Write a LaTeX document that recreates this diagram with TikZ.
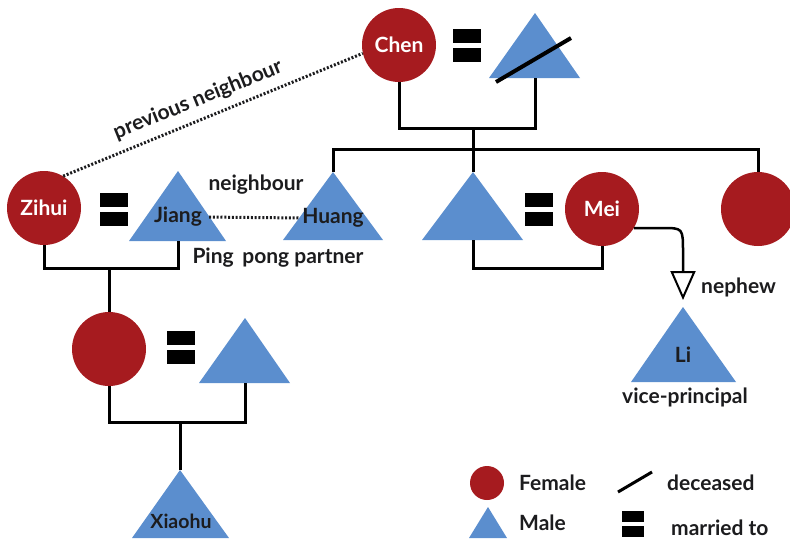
\documentclass[tikz,border=0pt]{standalone}
\usepackage{fontspec}
\setmainfont{Lato}
\usetikzlibrary{arrows.meta,calc}

\definecolor{femred}{RGB}{166,27,31}
\definecolor{maleblue}{RGB}{91,142,206}
\definecolor{inkgrey}{RGB}{28,28,30}

\tikzset{
  female/.style={circle,fill=femred,minimum size=74pt,inner sep=0pt,text=white,
    font=\bfseries\fontsize{21}{24}\selectfont},
  male/.style={fill=maleblue},
  malename/.style={inner sep=1pt,text=inkgrey,font=\bfseries\fontsize{21}{24}\selectfont},
  lbl/.style={inner sep=1pt,text=inkgrey,font=\bfseries\fontsize{21}{24}\selectfont},
  kin/.style={line width=3pt,line cap=butt,line join=miter},
  link/.style={line width=3pt,line cap=butt,dash pattern=on 2pt off 1.8pt,draw=inkgrey},
  dead/.style={line width=4pt,line cap=butt},
  marry/.pic={\fill (-14,-16.5) rectangle (14,-2.5); \fill (-14,2.5) rectangle (14,16.5);}
}

\begin{document}
\begin{tikzpicture}[line cap=round,line join=round,x=1pt,y=-1pt]

\useasboundingbox (0,0) rectangle (790,542);

% Chen and husband
\node[female] (chen) at (399,45) {Chen};
\pic at (467,45.5) {marry};
\fill[male] (535,13) -- (489,78) -- (580,78) -- cycle;
\coordinate (chenhb) at (535,78);
\draw[dead] (496,82) -- (571,38);

% Zihui and Jiang
\node[female] (zihui) at (44,208) {Zihui};
\pic at (114,209.5) {marry};
\fill[male] (178,171) -- (129,241) -- (226,241) -- cycle;
\coordinate (jiangb) at (178,241);
\node[malename] (jiang) at (178,217) {Jiang};

% Chen's children
\fill[male] (333,172) -- (283,240) -- (383,240) -- cycle;
\coordinate (huangt) at (333,172);
\node[malename] (huang) at (333,218) {Huang};

\fill[male] (473,172) -- (422,240) -- (523,240) -- cycle;
\coordinate (sont) at (473,172);
\coordinate (sonb) at (473,240);
\pic at (539,209) {marry};
\node[female] (mei) at (602,209) {Mei};

\node[female] (sister) at (758,209) {};

% next generation
\node[female] (daughter) at (109,349) {};
\pic at (180.5,347) {marry};
\fill[male] (245,318) -- (199,383) -- (290,383) -- cycle;
\coordinate (sonlawb) at (245,383);

\fill[male] (180,470) -- (132,538) -- (229,538) -- cycle;
\coordinate (xiaohut) at (180,470);
\node[malename,font=\bfseries\fontsize{19.5}{22}\selectfont] (xiaohu) at (181,521) {Xiaohu};

\fill[male] (683,307) -- (631,382) -- (736,382) -- cycle;
\coordinate (lit) at (683,307);
\node[malename] (li) at (683,355) {Li};

% family lines
\coordinate (chenm) at (473,128);
\coordinate (sib) at (473,149);
\draw[kin] (chen.south) |- (chenm) -| (chenhb);
\draw[kin] (chenm) -- (sont);
\draw[kin] (huangt) |- (sib) -| (sister.north);
\draw[kin] (sonb) -- ++(0,28) -| (mei.south);

\coordinate (zihuim) at (109,268);
\draw[kin] (zihui.south) |- (zihuim) -| (jiangb);
\draw[kin] (zihuim) -- (daughter.north);

\coordinate (daughterm) at (180,422);
\draw[kin] (daughter.south) |- (daughterm) -| (sonlawb);
\draw[kin] (daughterm) -- (xiaohut);

% other ties
\draw[link] (zihui.59) -- (chen.193);
\draw[link,shorten <=6pt,shorten >=1pt] (jiang.east) -- (huang.west);
\coordinate (nephbend) at (662,228);
\draw[line width=2.5pt,line cap=butt,-{Triangle[open,length=29pt,width=25pt,line width=2pt]}]
  (mei.-31) -- (nephbend) .. controls (683,228) .. (683,252) -- ($(lit)+(0,-7)$);

% labels
\node[lbl,rotate=22] (prevnb) at (198,100) {previous neighbour};
\node[lbl] (nb) at (256,185) {neighbour};
\node[lbl] (pp) at (278,258) {Ping\, pong partner};
\node[lbl,anchor=west] (neph) at (700,287) {nephew};
\node[lbl] (vp) at (685,397) {vice-principal};

% legend
\node[female,minimum size=34pt] (lgf) at (487,483) {};
\node[lbl,anchor=west] (lgft) at (518,483) {Female};
\fill[male] (488,507) -- (469,538) -- (507,538) -- cycle;
\node[lbl,anchor=west] (lgmt) at (518,523) {Male};
\draw[dead,line width=3pt] (618,492) -- (652,472);
\node[lbl,anchor=west] (lgdt) at (666,483) {deceased};
\pic[scale=0.8] at (633,524) {marry};
\node[lbl,anchor=west] (lgwt) at (670,528) {married to};

\end{tikzpicture}
\end{document}
